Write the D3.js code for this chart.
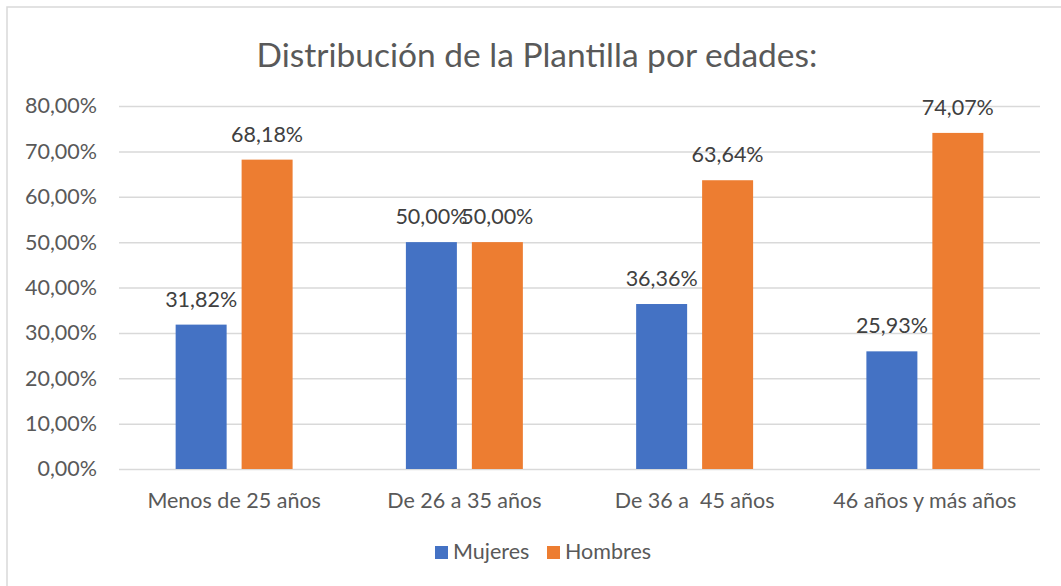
<!DOCTYPE html>
<html>
<head>
<meta charset="utf-8">
<script src="https://cdn.jsdelivr.net/npm/d3@7"></script>
<style>
  html, body { margin: 0; padding: 0; background: #fff; }
  text { font-family: Lato, 'Liberation Sans', sans-serif; white-space: pre; }
</style>
</head>
<body>
<div id="chart"></div>
<script>
const categories = ['Menos de 25 años', 'De 26 a 35 años', 'De 36 a  45 años', '46 años y más años'];
const series = ['Mujeres', 'Hombres'];
const mujeres = [31.82, 50.0, 36.36, 25.93];
const hombres = [68.18, 50.0, 63.64, 74.07];
const yTicks = [0, 10, 20, 30, 40, 50, 60, 70, 80];

const width = 1061,
  height = 586;

const fontSize = '21.5px';

const color = d3.scaleOrdinal().domain(series).range(['#4472C4', '#ED7D31']);
const fmt = v => d3.format('.2f')(v).replace('.', ',') + '%';

const rows = categories.map((c, i) => ({
  category: c,
  values: [
    { key: 'Mujeres', value: mujeres[i] },
    { key: 'Hombres', value: hombres[i] }
  ]
}));

const svg = d3
  .select('#chart')
  .append('svg')
  .attr('width', width)
  .attr('height', height);

// chart border (only top/left visible in the crop)
svg
  .append('rect')
  .attr('x', 7)
  .attr('y', 7)
  .attr('width', width + 20)
  .attr('height', height + 20)
  .attr('fill', 'none')
  .attr('stroke', '#d9d9d9')
  .attr('stroke-width', 1.5);

const x0 = d3
  .scaleBand()
  .domain(categories)
  .range([119, 1040])
  .paddingInner(0.492)
  .paddingOuter(0.246);

const x1 = d3
  .scaleBand()
  .domain(series)
  .range([0, x0.bandwidth()])
  .paddingInner(0.227);

const y = d3.scaleLinear().domain([0, 80]).range([469, 106]);

svg
  .append('text')
  .attr('x', 537)
  .attr('y', 67)
  .attr('text-anchor', 'middle')
  .attr('fill', '#595959')
  .style('font-size', '33.5px')
  .text('Distribución de la Plantilla por edades:');

// gridlines + y labels
const yAxis = svg
  .append('g')
  .attr('transform', 'translate(119,0)')
  .call(
    d3
      .axisLeft(y)
      .tickValues(yTicks)
      .tickSize(-(1040 - 119))
      .tickPadding(22)
      .tickFormat(fmt)
  );
yAxis.select('.domain').remove();
yAxis.selectAll('.tick line').attr('stroke', '#d9d9d9').attr('stroke-width', 1.5);
yAxis
  .selectAll('.tick text')
  .attr('fill', '#595959')
  .style('font-size', fontSize)
  .style('font-family', 'Lato, sans-serif');

const groups = svg
  .append('g')
  .selectAll('g')
  .data(rows)
  .join('g')
  .attr('transform', d => `translate(${x0(d.category)},0)`);

groups
  .selectAll('rect')
  .data(d => d.values)
  .join('rect')
  .attr('x', d => x1(d.key))
  .attr('y', d => y(d.value))
  .attr('width', x1.bandwidth())
  .attr('height', d => y(0) - y(d.value))
  .attr('fill', d => color(d.key));

groups
  .selectAll('.label')
  .data(d => d.values)
  .join('text')
  .attr('class', 'label')
  .attr('x', d => x1(d.key) + x1.bandwidth() / 2)
  .attr('y', d => y(d.value) - 18)
  .attr('text-anchor', 'middle')
  .attr('fill', '#404040')
  .style('font-size', fontSize)
  .text(d => fmt(d.value));

// category labels
const xAxis = svg
  .append('g')
  .attr('transform', `translate(0,${y(0)})`)
  .call(d3.axisBottom(x0).tickSize(0).tickPadding(0));
xAxis.select('.domain').remove();
xAxis
  .selectAll('.tick text')
  .attr('dy', null)
  .attr('y', 39)
  .attr('fill', '#595959')
  .style('font-size', fontSize)
  .style('font-family', 'Lato, sans-serif');

// legend
const legendX = [435, 547];
const legend = svg
  .append('g')
  .selectAll('g')
  .data(series)
  .join('g')
  .attr('transform', (d, i) => `translate(${legendX[i]},546)`);
legend
  .append('rect')
  .attr('width', 13)
  .attr('height', 13)
  .attr('fill', d => color(d));
legend
  .append('text')
  .attr('x', 18)
  .attr('y', 13)
  .attr('fill', '#595959')
  .style('font-size', fontSize)
  .text(d => d);
</script>
</body>
</html>
